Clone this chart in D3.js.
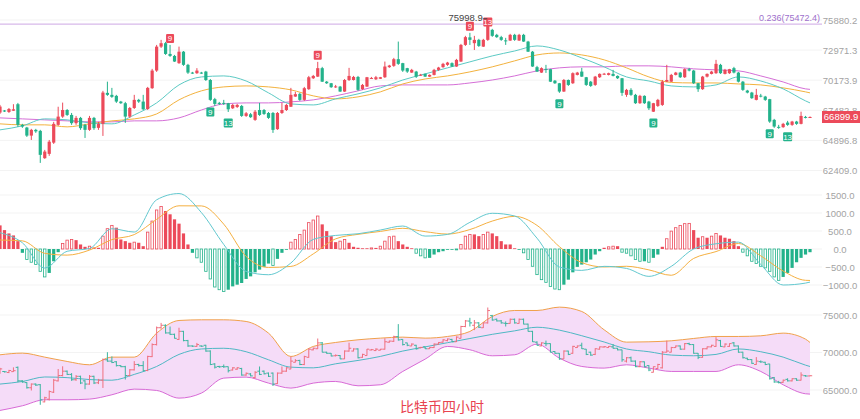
<!DOCTYPE html>
<html>
<head>
<meta charset="utf-8">
<script src="https://cdn.jsdelivr.net/npm/d3@7"></script>
<style>
  body { margin: 0; background: #fff; }
  svg { display: block; font-family: "Liberation Sans", Arial, sans-serif; }
</style>
</head>
<body>
<svg width="860" height="419"></svg>
<script>
// 4H candles
var opens = [
  67285,67466,67337,67449,68019,66220,65989,65301,65791,65705,
  63416,63772,64707,66220,66933,67509,67079,66366,66822,66220,
  65791,66822,65963,66306,69029,68851,68761,68252,68108,66933,
  67688,68404,68252,67599,69450,71057,73301,73629,72609,72423,
  71745,72822,71587,70871,70815,70871,70964,70193,68466,68135,
  68135,68108,67661,67778,67867,66993,67139,66650,67509,67509,
  67251,67251,65851,67251,67509,67796,68699,68940,68404,69360,
  70351,70500,71280,70040,69897,69566,69593,69146,70193,70193,
  70472,69360,69593,70333,70258,70305,70444,71373,71494,72116,
  71745,71280,70871,70964,70639,70751,70500,70658,71122,71373,
  71587,71745,71431,71893,73465,74190,73629,73948,73301,73948,
  74914,74431,74209,73900,73880,74431,73880,74431,73784,72822,
  71373,70871,71215,71187,70128,69897,69146,70193,69897,70658,
  70964,70444,70040,69745,70444,70732,70658,70751,70565,70351,
  68851,69298,68851,68108,68761,68252,67363,67867,67956,70040,
  70040,70658,70871,70444,71187,71057,69897,69360,70500,70751,
  70815,71587,70751,70815,71280,70871,70040,69235,69056,68404,
  68780,68699,68466,66650,66048,66022,66418,66220,66504,66306,
  66907,66873
];
var highs = [
  67956,67509,67688,68019,68135,66306,66048,65877,65877,65791,
  64103,64932,66478,67796,68162,67599,67251,66993,66907,66306,
  66993,66907,66478,69208,70040,69477,68851,68314,68225,67778,
  68851,68493,68851,69566,71215,73465,73948,73755,73465,72516,
  73301,72887,71680,70936,71280,70936,71029,70286,68582,68225,
  68404,68135,68046,68046,67956,67337,67251,67509,68135,67599,
  67337,67337,67337,68135,68046,69477,69119,69029,69566,70565,
  70658,71865,71401,70102,69924,69745,69655,70286,71308,70565,
  70565,69834,70472,70472,70565,70472,71893,71587,72237,73784,
  71773,71308,71215,71029,70751,70797,70704,71215,71401,71773,
  71865,71819,72144,73562,74334,74624,74334,74045,74045,75998.9,
  75011,74528,74334,74141,74528,74528,74528,74528,73851,72887,
  71494,71354,71587,71215,70193,69924,70286,70240,70890,70936,
  71308,70472,70102,70565,70797,70843,70862,71122,70611,70379,
  69387,69450,68940,68851,68806,68314,68135,68493,70193,71587,
  70751,70936,70936,71261,71308,71122,69924,70565,70797,71029,
  72051,71680,71215,71215,71401,70936,70102,69298,69119,69387,
  68940,68761,68493,66736,66220,66392,66564,66564,66564,67363,
  66993,66950
];
var lows = [
  67165,67337,67251,67423,66048,65963,65189,64932,65533,63028,
  63359,63607,64599,66134,66822,66993,66220,66220,65791,65104,
  65705,65791,65791,65275,68761,68582,68135,68046,66392,66822,
  67599,68135,67509,67509,69387,70936,73175,72516,72330,71865,
  71680,71494,70751,70751,70751,70751,70102,68314,67867,67956,
  67956,67337,67599,67688,66907,66907,66822,66564,66993,67079,
  66736,65533,65791,67165,67423,67778,68672,68314,68314,69298,
  70286,70472,70013,69834,69477,69477,69119,69119,70102,70147,
  69208,69298,69566,70286,70193,70286,70379,71308,71401,71587,
  70936,70843,70843,70379,70565,70472,70472,70611,71029,71308,
  71494,71401,71401,71865,73368,73465,72982,73272,73272,73851,
  74238,74141,73851,73465,73851,73851,73851,73755,72794,71401,
  70936,70843,70843,70013,69834,69029,69119,69655,69834,70611,
  70472,69655,69566,69655,70379,70658,70611,70518,70286,68761,
  68672,68761,68046,68046,68046,67509,67337,67778,67867,70013,
  70013,70611,70379,70379,70983,69834,69119,69298,70425,70704,
  70751,70751,70704,70751,70797,69968,69208,68985,68493,68359,
  68627,68314,66392,65963,65877,65963,66134,66134,66220,66263,
  66779,66856
];
var closes = [
  67812,67423,67599,67572,66220,66074,65301,65791,65662,63690,
  63962,64790,66306,66933,67509,67079,66366,66822,65937,65791,
  66822,65937,66306,69056,68851,68672,68252,68108,66933,67688,
  68404,68252,67572,69477,71057,73301,73629,72609,72423,71893,
  72822,71587,70871,70843,71057,70843,70193,68404,68046,68090,
  68090,67572,67956,67956,66993,67225,66881,67363,67079,67165,
  66822,65791,67251,67509,67956,68851,68913,68404,69450,70444,
  70565,71280,70040,69897,69539,69611,69146,70193,70565,70472,
  69298,69745,70444,70379,70444,70444,71431,71522,72116,71680,
  71057,70964,71122,70500,70676,70500,70658,71122,71336,71680,
  71800,71431,72051,73465,74209,73948,73948,73368,73948,75590,
  74334,74209,73948,73861,74431,73948,74431,73784,72822,71431,
  70964,71280,71168,70040,69897,69146,70193,69745,70815,70871,
  70500,69745,69655,70500,70751,70769,70815,70565,70351,69029,
  69298,68851,68108,68761,68108,67661,68108,68404,70040,70193,
  70658,70871,70444,71187,71057,69897,69360,70500,70751,70964,
  71680,70815,71122,71187,70871,70040,69298,69056,68555,68851,
  68744,68404,66504,66074,66005,66306,66220,66504,66306,66993,
  66865,66899.9
];

// MACD histogram, one bar per candle
var macdHist = [
  656,525,433,377,218,-106,-293,-368,-433,-620,
  -776,-665,-341,-89,154,246,265,246,126,61,
  78,42,34,357,564,656,592,265,218,173,
  190,173,78,469,776,1084,1179,1056,964,824,
  704,433,126,-106,-246,-368,-620,-832,-1056,-1131,
  -1178,-1131,-1038,-991,-944,-832,-760,-648,-573,-497,
  -405,-461,-274,-106,-14,190,265,405,525,732,
  805,916,684,497,357,190,218,265,173,61,
  34,20,20,30,30,78,218,341,357,218,
  126,61,20,-117,-190,-246,-246,-154,-89,-61,
  -20,-15,-25,126,357,405,405,357,405,469,
  433,357,218,126,126,20,-15,-106,-293,-480,
  -712,-852,-926,-1038,-1112,-1131,-991,-852,-648,-497,
  -433,-368,-293,-154,-61,34,61,78,78,-89,
  -117,-190,-293,-341,-341,-368,-246,-154,61,285,
  497,592,656,704,712,525,313,341,313,357,
  433,377,313,285,218,78,-89,-190,-341,-405,
  -480,-525,-620,-776,-871,-776,-665,-525,-368,-246,
  -154,-89
];

// indicator lines, read every 5th candle
var lineIdx = [0,5,10,15,20,25,30,35,40,45,50,55,60,65,70,75,80,85,90,95,
               100,105,110,115,120,125,130,135,140,145,150,155,160,165,170,175,180,181];
var ma20 = [65791,66134,66736,66650,66392,66306,67079,68135,69745,70472,70565,70102,69029,68046,67956,68493,68940,69477,70193,70751,
            71308,71865,72423,72887,73368,72982,72237,71401,70472,70102,69655,69566,69745,70472,70102,69387,68314,68135];
var ma30 = [66306,66220,66220,66048,66306,66564,66736,67165,68404,69208,69566,69655,69566,69298,68761,68493,68672,69119,69834,70286,
            70565,70936,71401,71958,72516,72701,72516,72051,71308,70472,69968,69924,69924,69834,69745,69477,69119,69029];
var ma60 = [66822,66736,66650,66564,66478,66478,66564,66564,66822,67509,68046,68135,68135,68225,68404,68761,69208,69655,69745,69745,
            69745,69924,70193,70565,71029,71308,71401,71401,71494,71494,71401,71215,71122,71029,70565,70013,69387,69342];
var difLine = [452,173,-529,-63,15,564,471,1366,1540,1013,126,-622,-715,-389,266,377,424,527,638,359,
               405,740,992,917,300,-500,-594,-482,-540,-760,-482,0,145,191,-430,-1000,-947,-919];
var deaLine = [250,226,-120,-170,-30,260,400,824,1200,1197,690,-206,-513,-484,-136,282,407,488,575,482,
               415,540,776,907,656,65,-378,-499,-480,-580,-730,-262,-72,152,-190,-612,-870,-874];
var bollUp = [69694,69916,69383,68805,68361,69383,69383,72582,74270,74359,74359,74137,72582,69472,70805,71338,71693,71916,72049,71916,
              72138,72804,74804,75603,75603,76048,75470,73026,71382,71427,71560,71871,72138,72138,72227,72582,71782,71338];
var bollLow = [62274,62896,63696,63696,63785,64363,65118,64940,63918,64585,66584,66717,65918,65251,65918,66140,65562,65696,67473,69116,
               70805,70361,69561,69694,71116,69250,68139,67917,68361,67917,67473,67473,67473,68361,67473,65696,64496,64451];

var priceTicks = [75880.2, 72971.3, 70173.9, 67482.8, 64896.8, 62409.0];
var macdTicks = [1500, 1000, 500, 0, -500, -1000];
var bollTicks = [75000, 70000, 65000];

// TD sequential counts
var tdMarks = [
  {i: 38, label: "9", top: true}, {i: 71, label: "9", top: true},
  {i: 105, label: "9", top: true}, {i: 109, label: "13", top: true},
  {i: 47, label: "9", top: false}, {i: 51, label: "13", top: false},
  {i: 125, label: "9", top: false}, {i: 146, label: "9", top: false},
  {i: 172, label: "9", top: false}, {i: 176, label: "13", top: false}
];
var fibLevel = 75472.4, fibLabel = "0.236(75472.4)";
var lastPrice = 66899.9;
var title = "比特币四小时";

var svg = d3.select("svg");
var W = 822;
var red = "#ec4a5a", green = "#23b28b";

var x = d3.scaleLinear().domain([0, closes.length - 1]).range([0, 810]);
var y = d3.scaleLog().domain([62409.0, 75880.2]).range([170.5, 20]);
var yMacd = d3.scaleLinear().domain([-1000, 1500]).range([285, 195]);
var yBoll = d3.scaleLinear().domain([65000, 75000]).range([390, 315]);

var candles = closes.map(function(c, i) {
  return {i: i, o: opens[i], h: highs[i], l: lows[i], c: c, up: c >= opens[i]};
});
function pts(vals) { return vals.map(function(v, k) { return [lineIdx[k], v]; }); }

var defs = svg.append("defs");
[["clipMain", 0, 186], ["clipMacd", 188, 300], ["clipBoll", 302, 419]].forEach(function(d) {
  defs.append("clipPath").attr("id", d[0]).append("rect")
    .attr("x", 0).attr("y", d[1]).attr("width", W).attr("height", d[2] - d[1]);
});

// gridlines
function hgrid(scale, ticks) {
  svg.append("g").selectAll("line").data(ticks).enter().append("line")
    .attr("x1", 0).attr("x2", W)
    .attr("y1", function(d) { return scale(d); }).attr("y2", function(d) { return scale(d); })
    .attr("stroke", "#f3f3f3");
}
hgrid(y, priceTicks);
hgrid(yMacd, macdTicks);
hgrid(yBoll, bollTicks);

function axis(scale, ticks) {
  var g = svg.append("g").attr("transform", "translate(840,0)")
    .call(d3.axisRight(scale).tickValues(ticks).tickSize(0).tickFormat(d3.format(".1f")));
  g.select(".domain").remove();
  g.selectAll("text").attr("x", 0).attr("text-anchor", "middle")
    .attr("fill", "#a3a3a3").style("font-size", "9.5px");
}
axis(y, priceTicks);
axis(yMacd, macdTicks);
axis(yBoll, bollTicks);

// ---- main panel
var main = svg.append("g").attr("clip-path", "url(#clipMain)");

main.append("line").attr("x1", 0).attr("x2", W)
  .attr("y1", y(fibLevel)).attr("y2", y(fibLevel))
  .attr("stroke", "#d7b9ea").attr("stroke-width", 1.2);

function curve(scale) {
  return d3.line().x(function(d) { return x(d[0]); }).y(function(d) { return scale(d[1]); }).curve(d3.curveMonotoneX);
}
[[ma60, "#d56fd7"], [ma30, "#f3b23e"], [ma20, "#5ccac4"]].forEach(function(m) {
  main.append("path").attr("d", curve(y)(pts(m[0])))
    .attr("fill", "none").attr("stroke", m[1]).attr("stroke-width", 1);
});

var cg = main.selectAll(".candle").data(candles).enter().append("g");
cg.append("line")
  .attr("x1", function(d) { return x(d.i); }).attr("x2", function(d) { return x(d.i); })
  .attr("y1", function(d) { return y(d.h); }).attr("y2", function(d) { return y(d.l); })
  .attr("stroke", function(d) { return d.up ? red : green; });
cg.append("rect")
  .attr("x", function(d) { return x(d.i) - 1.6; }).attr("width", 3.2)
  .attr("y", function(d) { return y(Math.max(d.o, d.c)); })
  .attr("height", function(d) { return Math.max(1, y(Math.min(d.o, d.c)) - y(Math.max(d.o, d.c))); })
  .attr("fill", function(d) { return d.up ? red : green; });

// TD count boxes
var td = main.selectAll(".td").data(tdMarks).enter().append("g");
td.each(function(d) {
  var c = candles[d.i];
  var w = d.label.length > 1 ? 9 : 8;
  var cy = d.top ? Math.max(y(c.h) - 6.5, 22) : y(c.l) + 11;
  var g = d3.select(this);
  g.append("rect").attr("x", x(d.i) - w / 2).attr("y", cy - 4.5).attr("width", w).attr("height", 9)
    .attr("rx", 1).attr("fill", d.top ? red : green);
  g.append("text").attr("x", x(d.i)).attr("y", cy + 2.8).attr("text-anchor", "middle")
    .attr("fill", "#fff").style("font-size", "8px").text(d.label);
});

// highest price label
var hi = d3.maxIndex(highs);
svg.append("line").attr("x1", x(hi) - 4.5).attr("x2", x(hi) - 0.5)
  .attr("y1", y(highs[hi])).attr("y2", y(highs[hi])).attr("stroke", "#444");
svg.append("text").attr("x", x(hi) - 5).attr("y", y(highs[hi]) + 2)
  .attr("text-anchor", "end").attr("fill", "#444").style("font-size", "9.5px")
  .text(d3.format(".1f")(highs[hi]));

svg.append("text").attr("x", 820).attr("y", y(fibLevel) - 3)
  .attr("text-anchor", "end").attr("fill", "#a070cc").style("font-size", "9px").text(fibLabel);

// last price tag
svg.append("rect").attr("x", 822).attr("y", y(lastPrice) - 6).attr("width", 38).attr("height", 12)
  .attr("fill", red);
svg.append("text").attr("x", 841).attr("y", y(lastPrice) + 3.5).attr("text-anchor", "middle")
  .attr("fill", "#fff").style("font-size", "9.5px").text(d3.format(".1f")(lastPrice));

// ---- MACD panel
var macd = svg.append("g").attr("clip-path", "url(#clipMacd)");
macd.selectAll("rect").data(macdHist).enter().append("rect")
  .each(function(v, i) {
    var grow = i > 0 && Math.abs(v) > Math.abs(macdHist[i - 1]);
    var col = v >= 0 ? red : green;
    var y0 = yMacd(Math.max(0, v)), y1 = yMacd(Math.min(0, v));
    d3.select(this)
      .attr("x", x(i) - (grow ? 1.2 : 1.6)).attr("width", grow ? 2.4 : 3.2)
      .attr("y", y0).attr("height", Math.max(0.8, y1 - y0))
      .attr("fill", grow ? "#fff" : col)
      .attr("stroke", grow ? col : "none").attr("stroke-width", 0.8);
  });
macd.append("path").attr("d", curve(yMacd)(pts(deaLine)))
  .attr("fill", "none").attr("stroke", "#f5b041").attr("stroke-width", 1);
macd.append("path").attr("d", curve(yMacd)(pts(difLine)))
  .attr("fill", "none").attr("stroke", "#62c8cf").attr("stroke-width", 1);

// ---- BOLL panel
var boll = svg.append("g").attr("clip-path", "url(#clipBoll)");
var bandPts = lineIdx.map(function(i, k) { return {i: i, up: bollUp[k], lo: bollLow[k]}; });
boll.append("path")
  .attr("d", d3.area().x(function(d) { return x(d.i); })
    .y0(function(d) { return yBoll(d.lo); }).y1(function(d) { return yBoll(d.up); })
    .curve(d3.curveMonotoneX)(bandPts))
  .attr("fill", "#f5dcf8");
boll.append("path").attr("d", curve(yBoll)(pts(bollUp)))
  .attr("fill", "none").attr("stroke", "#f0a04b").attr("stroke-width", 1);
boll.append("path").attr("d", curve(yBoll)(pts(bollLow)))
  .attr("fill", "none").attr("stroke", "#d86ad6").attr("stroke-width", 1);
boll.append("path").attr("d", curve(yBoll)(pts(ma20)))
  .attr("fill", "none").attr("stroke", "#4fb8c4").attr("stroke-width", 1);

var bars = boll.selectAll(".bar").data(candles).enter().append("g")
  .attr("stroke", function(d) { return d.up ? "#ef6f7e" : "#3bb5a0"; }).attr("stroke-width", 1);
bars.append("line")
  .attr("x1", function(d) { return x(d.i); }).attr("x2", function(d) { return x(d.i); })
  .attr("y1", function(d) { return yBoll(d.h); }).attr("y2", function(d) { return yBoll(d.l); });
bars.append("line")
  .attr("x1", function(d) { return x(d.i) - 2.2; }).attr("x2", function(d) { return x(d.i); })
  .attr("y1", function(d) { return yBoll(d.o); }).attr("y2", function(d) { return yBoll(d.o); });
bars.append("line")
  .attr("x1", function(d) { return x(d.i); }).attr("x2", function(d) { return x(d.i) + 2.2; })
  .attr("y1", function(d) { return yBoll(d.c); }).attr("y2", function(d) { return yBoll(d.c); });

svg.append("text").attr("x", 442).attr("y", 412).attr("text-anchor", "middle")
  .attr("fill", "#e8434f").style("font-family", "'Noto Sans CJK SC', sans-serif")
  .style("font-size", "14px").text(title);
</script>
</body>
</html>
